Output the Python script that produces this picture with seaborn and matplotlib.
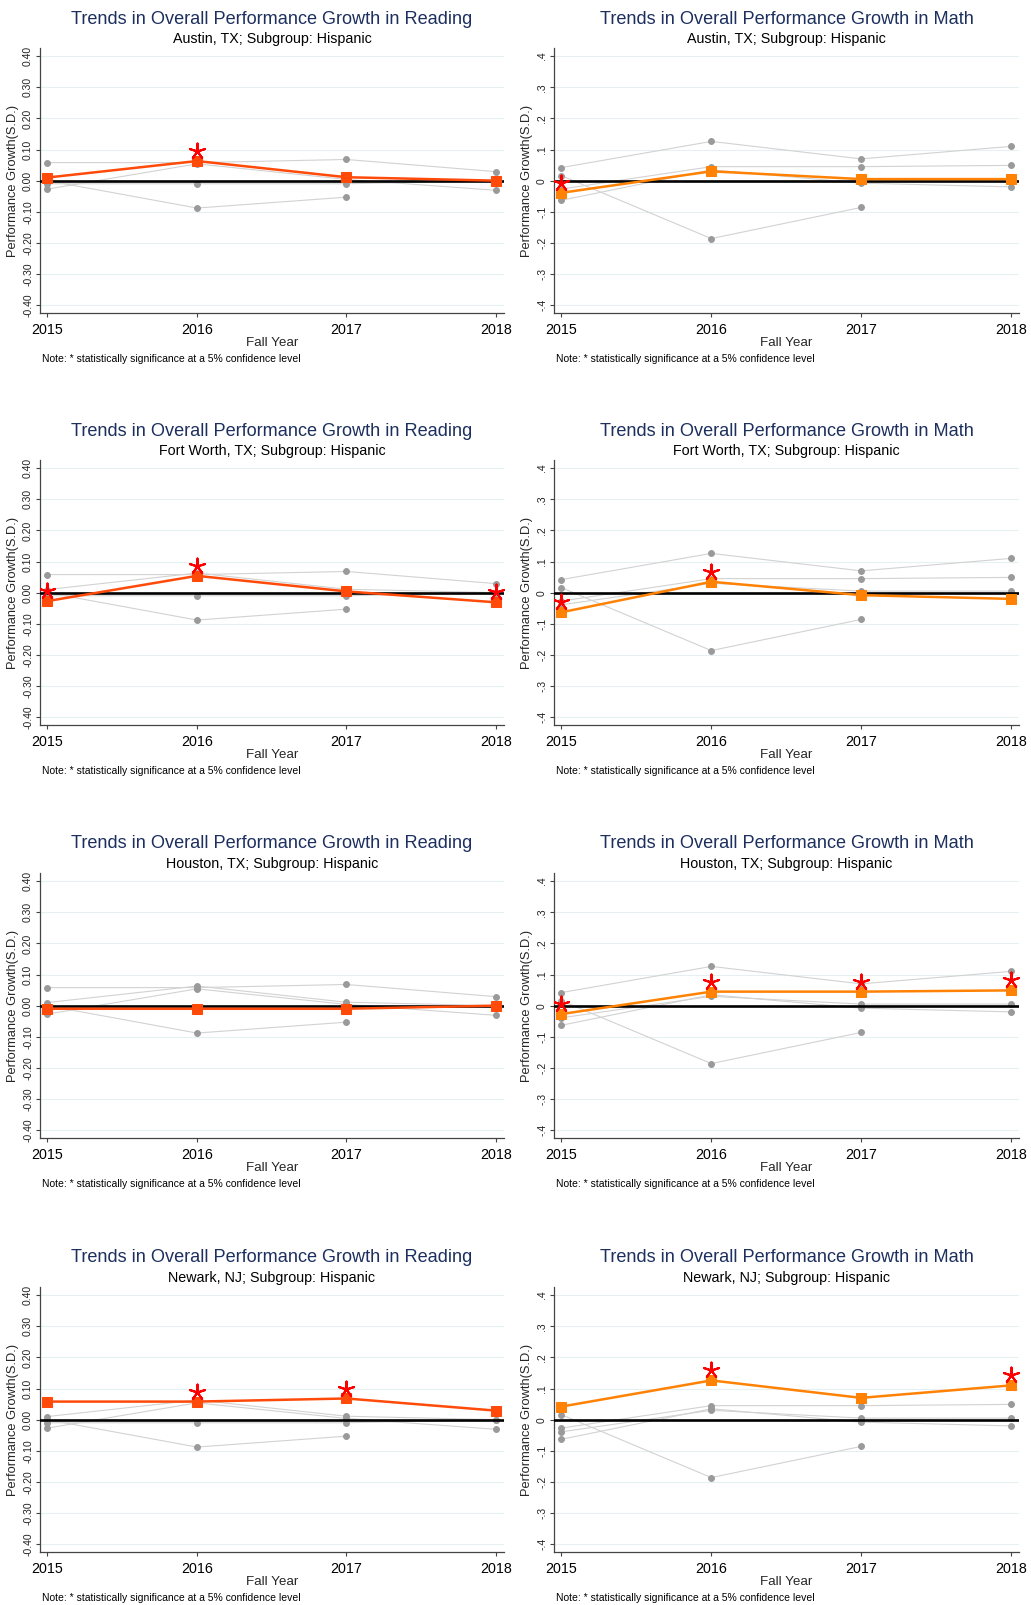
import numpy as np
import pandas as pd
import matplotlib
matplotlib.use("Agg")
import matplotlib.pyplot as plt
import seaborn as sns

# Data (performance growth in S.D.)
years = [2015, 2016, 2017, 2018]
cities = ["Austin, TX", "Fort Worth, TX", "Houston, TX", "Newark, NJ"]

reading_austin = [0.010, 0.063, 0.011, 0.000]
reading_fortworth = [-0.027, 0.054, 0.004, -0.031]
reading_houston = [-0.010, -0.010, -0.010, 0.000]
reading_newark = [0.058, 0.058, 0.068, 0.029]
reading_other = [0.000, -0.088, -0.053, np.nan]

math_austin = [-0.039, 0.030, 0.005, 0.005]
math_fortworth = [-0.063, 0.035, -0.008, -0.020]
math_houston = [-0.027, 0.045, 0.045, 0.049]
math_newark = [0.042, 0.126, 0.070, 0.110]
math_other = [0.016, -0.186, -0.086, np.nan]

# significance flags (1 = significant at 5%)
reading_sig_austin = [0, 1, 0, 0]
reading_sig_fortworth = [1, 1, 0, 1]
reading_sig_houston = [0, 0, 0, 0]
reading_sig_newark = [0, 1, 1, 0]
math_sig_austin = [1, 0, 0, 0]
math_sig_fortworth = [1, 1, 0, 0]
math_sig_houston = [1, 1, 1, 1]
math_sig_newark = [0, 1, 0, 1]

reading_ticks = [-0.4, -0.3, -0.2, -0.1, 0.0, 0.1, 0.2, 0.3, 0.4]
reading_ticklabels = ["-0.40", "-0.30", "-0.20", "-0.10", "0.00", "0.10", "0.20", "0.30", "0.40"]
math_ticks = [-0.4, -0.3, -0.2, -0.1, 0.0, 0.1, 0.2, 0.3, 0.4]
math_ticklabels = ["-.4", "-.3", "-.2", "-.1", "0", ".1", ".2", ".3", ".4"]

subjects = {
    "Reading": {
        "values": [reading_austin, reading_fortworth, reading_houston, reading_newark],
        "other": reading_other,
        "sig": [reading_sig_austin, reading_sig_fortworth, reading_sig_houston, reading_sig_newark],
        "ticks": reading_ticks, "ticklabels": reading_ticklabels, "color": "#ff4a0a",
    },
    "Math": {
        "values": [math_austin, math_fortworth, math_houston, math_newark],
        "other": math_other,
        "sig": [math_sig_austin, math_sig_fortworth, math_sig_houston, math_sig_newark],
        "ticks": math_ticks, "ticklabels": math_ticklabels, "color": "#ff8205",
    },
}

sns.set_theme(style="white")
plt.rcParams["font.family"] = ["Liberation Sans", "DejaVu Sans"]

W, H = 1031, 1605
fig = plt.figure(figsize=(W / 100, H / 100), dpi=100)

col_x = [(40, 504), (554, 1019)]
row_top = [48, 460, 873, 1287]
ax_h = 265
STAR_OFFSET = 0.032


def long_frame(names, series):
    rows = []
    for name, vals in zip(names, series):
        for y, v in zip(years, vals):
            rows.append({"city": name, "year": y, "value": v})
    return pd.DataFrame(rows)


for r, city in enumerate(cities):
    for c, subject in enumerate(["Reading", "Math"]):
        info = subjects[subject]
        x0, x1 = col_x[c]
        top = row_top[r]
        bottom = top + ax_h
        ax = fig.add_axes([x0 / W, 1 - bottom / H, (x1 - x0) / W, ax_h / H])

        # other cities in grey
        names = [n for i, n in enumerate(cities) if i != r] + ["Other"]
        vals = [v for i, v in enumerate(info["values"]) if i != r] + [info["other"]]
        gray = long_frame(names, vals).dropna()
        sns.lineplot(data=gray, x="year", y="value", units="city", estimator=None,
                     color="#d2d2d2", linewidth=0.8, marker="o", markersize=4.2,
                     markerfacecolor="#9a9a9a", markeredgecolor="#9a9a9a",
                     legend=False, ax=ax, zorder=2)

        ax.axhline(0, color="black", linewidth=1.9, zorder=3)

        main = long_frame([city], [info["values"][r]])
        col = info["color"]
        sns.lineplot(data=main, x="year", y="value", color=col, linewidth=1.8,
                     marker="s", markersize=6.5, markerfacecolor=col,
                     markeredgecolor=col, legend=False, ax=ax, zorder=4)

        sig = np.array(info["sig"][r], dtype=bool)
        stars = main[sig].copy()
        if len(stars):
            stars["star_y"] = stars["value"] + STAR_OFFSET
            sns.scatterplot(data=stars, x="year", y="star_y", marker=(5, 2, 0),
                            s=130, color="#ff0000", linewidth=1.5, legend=False,
                            ax=ax, zorder=5)

        ax.set_xlim(2014.95, 2018.054)
        ax.set_ylim(-0.425, 0.426)
        ax.set_xticks(years)
        ax.set_xticklabels([str(y) for y in years], fontsize=10.3)
        ax.set_yticks(info["ticks"])
        ax.set_yticklabels(info["ticklabels"], fontsize=7.5, rotation=90,
                           va="center", ha="right")
        ax.grid(axis="y", color="#e6eff1", linewidth=0.8, zorder=0)
        ax.grid(axis="x", visible=False)
        for side in ["top", "right"]:
            ax.spines[side].set_visible(False)
        for side in ["left", "bottom"]:
            ax.spines[side].set_color("#444444")
            ax.spines[side].set_linewidth(0.9)
        ax.tick_params(axis="both", direction="out", length=3, width=0.8,
                       color="#444444", left=True, bottom=True)
        ax.tick_params(axis="x", pad=4.5, labelcolor="black")
        ax.tick_params(axis="y", pad=2, labelcolor="#222222")

        ax.set_xlabel("Fall Year", fontsize=9.6)
        ax.xaxis.set_label_coords(0.5, -24 / ax_h)
        ax.set_ylabel("Performance Growth(S.D.)", fontsize=9.3)
        ax.yaxis.set_label_coords(-21 / (x1 - x0), 0.5)

        cx = (x0 + x1) / 2 / W
        fig.text(cx, 1 - (top - 29) / H,
                 f"Trends in Overall Performance Growth in {subject}",
                 ha="center", va="center", fontsize=13.1, color="#1c2f5e")
        fig.text(cx, 1 - (top - 9) / H, f"{city}; Subgroup: Hispanic",
                 ha="center", va="center", fontsize=10.3, color="black")
        fig.text((x0 + 2) / W, 1 - (bottom + 46) / H,
                 "Note: * statistically significance at a 5% confidence level",
                 ha="left", va="center", fontsize=7.5, color="black")

fig.savefig("out.png", dpi=100, facecolor="white")
